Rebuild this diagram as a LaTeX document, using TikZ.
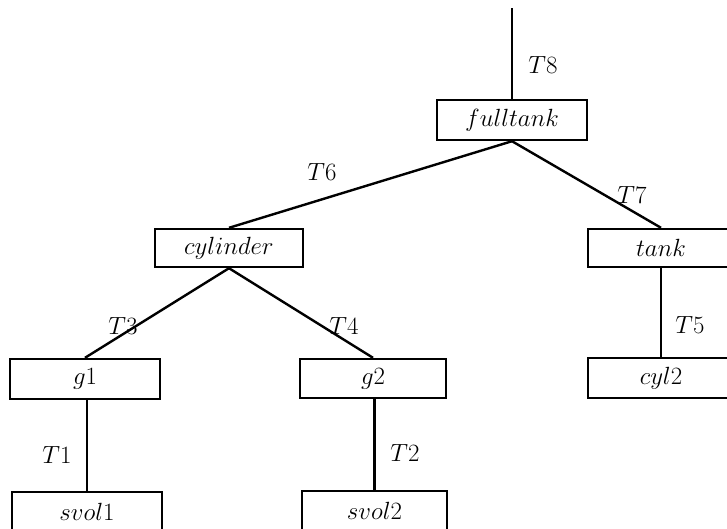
\documentclass[tikz,border=0pt]{standalone}
\begin{document}
\begin{tikzpicture}[x=1pt,y=-1pt,
  box/.style={draw,line width=2.4pt,minimum width=148pt,minimum height=39pt,inner sep=0pt,
    font=\fontsize{28}{32}\selectfont},
  edge/.style={line width=2.4pt},
  lbl/.style={font=\fontsize{28}{32}\selectfont,inner sep=0pt}]
\useasboundingbox (0,0) rectangle (727,528);
\clip (0,0) rectangle (727,528);
% tree nodes
\node[box,minimum width=150pt,minimum height=40pt] (fulltank) at (512,120) {$fulltank$};
\node[box,minimum width=148pt,minimum height=38pt] (cylinder) at (229,248) {$cylinder$};
\node[box,minimum width=146pt,minimum height=38pt] (tank) at (661,248) {$tank$};
\node[box,minimum width=150pt,minimum height=40pt] (g1) at (85,379) {$g1$};
\node[box,minimum width=146pt,minimum height=39pt] (g2) at (373,378.5) {$g2$};
\node[box,minimum width=146pt,minimum height=40pt] (cyl2) at (661,378) {$cyl2$};
\node[box,minimum width=150pt,minimum height=40pt] (svol1) at (87,512) {$svol1$};
\node[box,minimum width=145pt,minimum height=40pt] (svol2) at (374.5,511) {$svol2$};
\coordinate (root) at (512,8);
% connectors
\draw[edge] (root) -- (fulltank.north);
\draw[edge] (fulltank.south) -- (cylinder.north);
\draw[edge] (fulltank.south) -- (tank.north);
\draw[edge] (cylinder.south) -- (g1.north);
\draw[edge] (cylinder.south) -- (g2.north);
\draw[edge] (tank.south) -- (cyl2.north);
\draw[edge] (svol1.north) -- (svol1.north |- g1.south);
\draw[edge] (svol2.north) -- (svol2.north |- g2.south);
% edge labels
\node[lbl] (t8) at (543,65) {$T8$};
\node[lbl] (t6) at (322,172) {$T6$};
\node[lbl] (t7) at (632,195) {$T7$};
\node[lbl] (t3) at (123,326) {$T3$};
\node[lbl] (t4) at (344,326) {$T4$};
\node[lbl] (t5) at (690,325) {$T5$};
\node[lbl] (t1) at (57,455) {$T1$};
\node[lbl] (t2) at (405,453) {$T2$};
\end{tikzpicture}
\end{document}
